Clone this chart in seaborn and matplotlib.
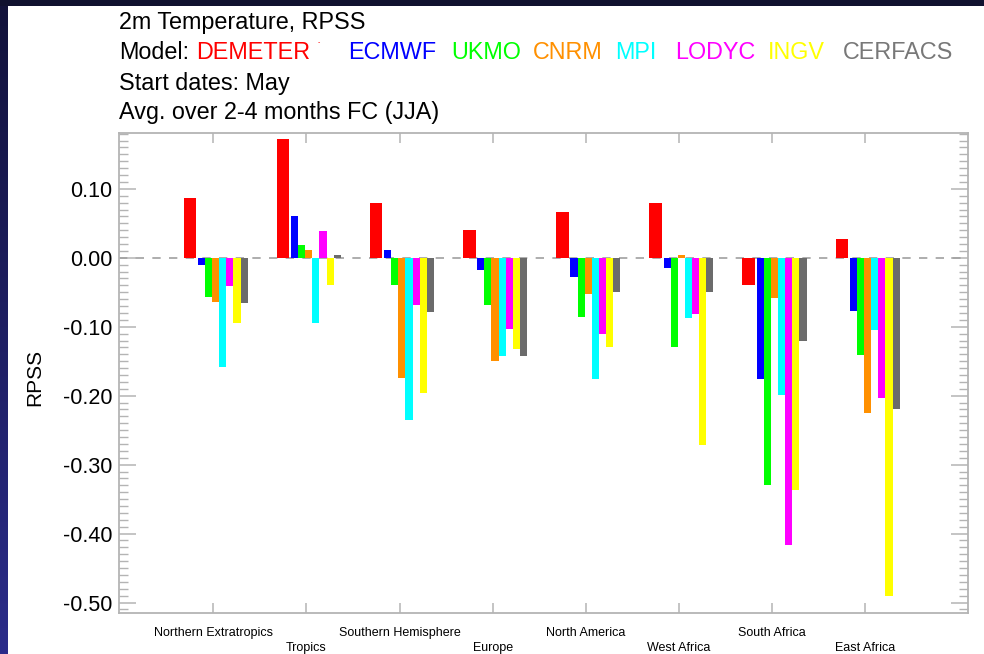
import numpy as np
import pandas as pd
import matplotlib.pyplot as plt
import seaborn as sns
from matplotlib.patches import Rectangle
from matplotlib.ticker import MultipleLocator, FormatStrFormatter

sns.set_theme(style="white")
plt.rcParams['font.family'] = ['Liberation Sans', 'DejaVu Sans']

REGIONS = ["Northern Extratropics", "Tropics", "Southern Hemisphere", "Europe",
           "North America", "West Africa", "South Africa", "East Africa"]
MODELS = ["DEMETER", "ECMWF", "UKMO", "CNRM", "MPI", "LODYC", "INGV", "CERFACS"]
COLORS = {"DEMETER": "#ff0000", "ECMWF": "#0000ff", "UKMO": "#00ff00", "CNRM": "#ff9000",
          "MPI": "#00ffff", "LODYC": "#ff00ff", "INGV": "#ffff00", "CERFACS": "#6b6b6b"}
TEXT_COLORS = dict(COLORS, CERFACS="#787878")

# RPSS per region (order of REGIONS)
demeter = [0.086, 0.172, 0.080, 0.041, 0.067, 0.079, -0.039, 0.027]
ecmwf = [-0.010, 0.060, 0.011, -0.017, -0.028, -0.015, -0.176, -0.077]
ukmo = [-0.057, 0.018, -0.040, -0.068, -0.086, -0.130, -0.330, -0.141]
cnrm = [-0.064, 0.011, -0.174, -0.150, -0.053, 0.004, -0.059, -0.225]
mpi = [-0.159, -0.094, -0.235, -0.143, -0.176, -0.088, -0.199, -0.105]
lodyc = [-0.041, 0.039, -0.068, -0.103, -0.110, -0.081, -0.416, -0.203]
ingv = [-0.095, -0.040, -0.196, -0.132, -0.130, -0.272, -0.337, -0.490]
cerfacs = [-0.066, 0.004, -0.078, -0.142, -0.050, -0.050, -0.120, -0.220]

YTICKS = [-0.50, -0.40, -0.30, -0.20, -0.10, 0.00, 0.10]

series = [demeter, ecmwf, ukmo, cnrm, mpi, lodyc, ingv, cerfacs]
df = pd.DataFrame([
    {"model": m, "region": r, "idx": i, "rpss": v}
    for m, vals in zip(MODELS, series)
    for i, (r, v) in enumerate(zip(REGIONS, vals))
])

W, H = 984, 654
fig = plt.figure(figsize=(W / 100, H / 100), dpi=100)
fig.patch.set_facecolor("white")

# dark slide frame: top strip and gradient strip on the left
fig.add_artist(Rectangle((0, 1 - 6 / H), 1, 6 / H, transform=fig.transFigure,
                         facecolor="#10112f", edgecolor="none", zorder=5))
strip = fig.add_axes([0, 0, 8 / W, 1])
grad = np.linspace(0, 1, 256).reshape(-1, 1)
strip.imshow(grad, aspect="auto", origin="upper",
             cmap=sns.blend_palette(["#12123a", "#2b2c8a"], as_cmap=True))
strip.set_axis_off()

ax = fig.add_axes([119 / W, (H - 612.5) / H, (968 - 119) / W, (612.5 - 133) / H])
ax.set_facecolor("white")

BW = 0.0766
for k, m in enumerate(MODELS):
    sub = df[df["model"] == m]
    if k == 0:
        off, w = -0.252, 0.135
    else:
        off, w = -0.166 + BW * (k - 0.5), BW
    sns.barplot(x=sub["idx"] + off, y=sub["rpss"], native_scale=True, orient="x",
                width=w, color=COLORS[m], saturation=1, errorbar=None,
                linewidth=0, ax=ax, zorder=2)

ax.axhline(0, color="#a0a0a0", lw=1.2, linestyle=(0, (5, 5)), zorder=1)

ax.set_xlim(-1.012, 8.103)
ax.set_ylim(-0.5145, 0.181)
ax.set_xlabel("")
ax.set_ylabel("")

ax.set_xticks(range(len(REGIONS)))
ax.set_xticklabels([r if i % 2 == 0 else "\n" + r for i, r in enumerate(REGIONS)],
                   fontsize=9, color="black")
for lab in ax.get_xticklabels():
    lab.set_linespacing(1.33)
ax.set_yticks(YTICKS)
ax.yaxis.set_major_formatter(FormatStrFormatter("%.2f"))
ax.yaxis.set_minor_locator(MultipleLocator(0.01))
for lab in ax.get_yticklabels():
    lab.set_fontsize(15.5)
    lab.set_color("black")

spine_c = "#b4b4b4"
for s in ax.spines.values():
    s.set_visible(True)
    s.set_color(spine_c)
    s.set_linewidth(1.3)
ax.tick_params(axis="y", which="major", direction="in", left=True, right=True,
               length=12.2, width=1.1, color=spine_c, pad=5)
ax.tick_params(axis="y", which="minor", direction="in", left=True, right=True,
               length=6.3, width=1.0, color=spine_c)
ax.tick_params(axis="x", which="major", direction="in", bottom=True, top=True,
               length=7.2, width=1.1, color=spine_c, pad=10.5)
ax.grid(False)

fig.text(35 / W, 1 - 377 / H, "RPSS", rotation=90, ha="center", va="center",
         fontsize=15, color="black")

# header text
fs = 16.8
def put(x, y, s, c="black"):
    fig.text(x / W, 1 - y / H, s, fontsize=fs, color=c, ha="left", va="baseline")

put(119, 29, "2m Temperature, RPSS")
put(119, 59, "Model:")
xs = [196.5, 348, 451.7, 533, 615, 675, 768, 843]
for x, m in zip(xs, MODELS):
    put(x, 59, m, TEXT_COLORS[m])
fig.text(319 / W, 1 - 43 / H, "-", fontsize=5, color="#ff0000", ha="center", va="center")
put(119, 90, "Start dates: May")
put(119, 119, "Avg. over 2-4 months FC (JJA)")

fig.savefig("out.png", dpi=100, facecolor="white")
